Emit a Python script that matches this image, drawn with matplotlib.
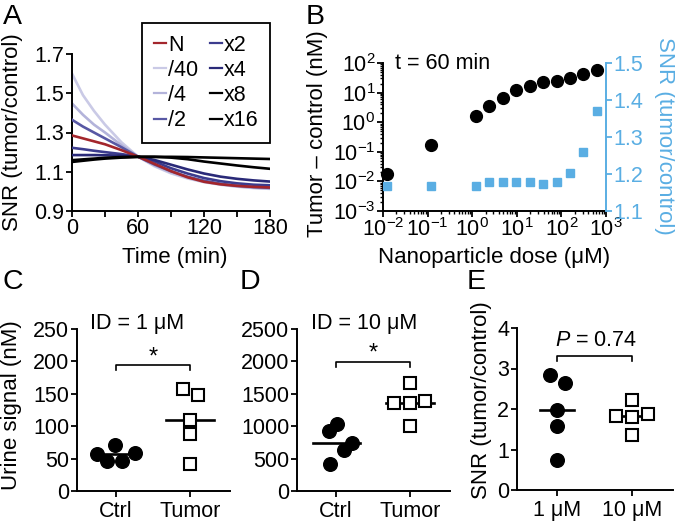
import matplotlib
matplotlib.use('Agg')
import matplotlib.pyplot as plt
from matplotlib.lines import Line2D
from matplotlib.ticker import LogLocator, NullFormatter, MultipleLocator
import numpy as np

plt.rcParams['font.family'] = ['Liberation Sans', 'DejaVu Sans']
plt.rcParams['mathtext.fontset'] = 'custom'
plt.rcParams['mathtext.rm'] = 'Liberation Sans'
plt.rcParams['mathtext.it'] = 'Liberation Sans:italic'
plt.rcParams['mathtext.bf'] = 'Liberation Sans:bold'

W, H = 675, 524

# ---------------- Panel A data ----------------
time_min = [0, 10, 20, 30, 45, 60, 75, 90, 105, 120, 135, 150, 165, 180]
snr_div40 = [1.600, 1.49, 1.41, 1.34, 1.25, 1.177, 1.128, 1.092, 1.066, 1.047, 1.034, 1.024, 1.017, 1.013]
snr_div4 = [1.448, 1.39, 1.34, 1.30, 1.235, 1.177, 1.133, 1.098, 1.070, 1.050, 1.036, 1.026, 1.019, 1.015]
snr_div2 = [1.365, 1.33, 1.30, 1.27, 1.225, 1.177, 1.137, 1.103, 1.075, 1.054, 1.039, 1.029, 1.022, 1.018]
snr_N = [1.285, 1.27, 1.255, 1.24, 1.21, 1.177, 1.14, 1.103, 1.072, 1.049, 1.036, 1.028, 1.023, 1.020]
snr_x2 = [1.222, 1.215, 1.207, 1.20, 1.19, 1.177, 1.152, 1.118, 1.091, 1.068, 1.052, 1.041, 1.034, 1.031]
snr_x4 = [1.185, 1.185, 1.185, 1.184, 1.182, 1.177, 1.16, 1.136, 1.112, 1.091, 1.075, 1.064, 1.056, 1.050]
snr_x8 = [1.159, 1.163, 1.167, 1.171, 1.175, 1.177, 1.176, 1.172, 1.164, 1.152, 1.142, 1.132, 1.123, 1.115]
snr_x16 = [1.150, 1.156, 1.162, 1.167, 1.172, 1.175, 1.176, 1.176, 1.175, 1.173, 1.171, 1.169, 1.167, 1.165]
curve_labels = ['N', '/40', '/4', '/2', 'x2', 'x4', 'x8', 'x16']

# ---------------- Panel B data ----------------
dose_uM = [0.0122, 0.122, 1.22, 2.44, 4.88, 9.77, 19.5, 39.1, 78.1, 156, 312, 625]
tumor_minus_control = [0.018, 0.17, 1.65, 3.4, 6.5, 11.8, 17, 22, 25, 30, 44, 60]
snr_60min = [1.168, 1.168, 1.168, 1.178, 1.178, 1.178, 1.178, 1.173, 1.179, 1.202, 1.259, 1.371]

# ---------------- Panel C data ----------------
c_ctrl = [57.7, 70.6, 58.8, 45.9, 45.9]
c_tumor = [158, 148, 110, 88.7, 41]
# ---------------- Panel D data ----------------
d_ctrl = [928, 1031, 742, 639, 412]
d_tumor = [1660, 1361, 1351, 1392, 1005]
# ---------------- Panel E data ----------------
e_1uM = [2.845, 2.64, 1.98, 1.57, 0.74]
e_10uM = [2.23, 1.83, 1.81, 1.88, 1.36]

# horizontal scatter offsets (layout only)
c_ctrl_dx = [-0.26, -0.01, 0.26, -0.13, 0.08]
c_tumor_dx = [-0.09, 0.11, 0, 0, 0]
d_ctrl_dx = [-0.10, 0.01, 0.21, 0.11, -0.09]
d_tumor_dx = [0, -0.22, 0, 0.20, 0]
e_1uM_dx = [-0.09, 0.11, 0, 0, 0]
e_10uM_dx = [0, -0.21, 0, 0.21, 0]

BLUE = '#5aaee3'
TICK = 15.5
LAB = 16
ANN = 15.5

fig = plt.figure(figsize=(W / 100, H / 100), dpi=100)


def add_ax(l, r, t, b):
    return fig.add_axes([l / W, 1 - b / H, (r - l) / W, (b - t) / H])


def ftext(x, y, s, **kw):
    fig.text(x / W, 1 - y / H, s, **kw)


def style(ax):
    for s in ['top', 'right']:
        ax.spines[s].set_visible(False)
    for s in ['left', 'bottom']:
        ax.spines[s].set_linewidth(1.4)
    ax.tick_params(direction='out', length=4, width=1.3, labelsize=TICK)
    ax.tick_params(which='minor', direction='out', length=4, width=1.3)


# ================= Panel A =================
axA = add_ax(72, 270, 54, 211)
style(axA)
curves = [
    ('/40', snr_div40, '#cacae6', 2),
    ('/4', snr_div4, '#b3b3da', 2),
    ('/2', snr_div2, '#5858a4', 3),
    ('x2', snr_x2, '#3c3c8e', 3),
    ('x4', snr_x4, '#2a2a78', 3),
    ('N', snr_N, '#a3262c', 4),
    ('x8', snr_x8, 'black', 5),
    ('x16', snr_x16, 'black', 5),
]
handles = {}
for lab, ys, col, z in curves:
    axA.plot(time_min, ys, color=col, lw=1.9, zorder=z)
    handles[lab] = Line2D([], [], color=col, lw=1.6)
axA.set_xlim(0, 180)
axA.set_ylim(0.9, 1.7)
axA.set_xticks([0, 60, 120, 180])
axA.xaxis.set_minor_locator(MultipleLocator(30))
axA.set_yticks([0.9, 1.1, 1.3, 1.5, 1.7])
axA.tick_params(axis='x', which='both', pad=1)
axA.tick_params(axis='y', pad=1.5)
leg = axA.legend([handles[k] for k in curve_labels], curve_labels, ncol=2,
                 loc='upper left', bbox_to_anchor=((142 - 72) / 198, (211 - 23) / 157),
                 frameon=True, fancybox=False, edgecolor='black', framealpha=1,
                 fontsize=15.5, handlelength=0.55, handletextpad=0.1,
                 columnspacing=0.55, labelspacing=0.19, borderpad=0.55, borderaxespad=0)
leg.get_frame().set_linewidth(1.3)
ftext(13, 132, 'SNR (tumor/control)', rotation=90, ha='center', va='center', fontsize=LAB)
ftext(175, 263, 'Time (min)', ha='center', va='baseline', fontsize=LAB)

# ================= Panel B =================
axB = add_ax(383, 606, 63, 211)
axB.spines['top'].set_visible(False)
axB.spines['right'].set_visible(False)
for s in ['left', 'bottom']:
    axB.spines[s].set_linewidth(1.4)
axB.set_xscale('log')
axB.set_yscale('log')
axB.set_xlim(1e-2, 1e3)
axB.set_ylim(1e-3, 1e2)
axB.xaxis.set_major_locator(LogLocator(base=10, numticks=20))
axB.yaxis.set_major_locator(LogLocator(base=10, numticks=20))
axB.xaxis.set_minor_locator(LogLocator(base=10, subs=np.arange(2, 10), numticks=20))
axB.yaxis.set_minor_locator(LogLocator(base=10, subs=np.arange(2, 10), numticks=20))
axB.xaxis.set_minor_formatter(NullFormatter())
axB.yaxis.set_minor_formatter(NullFormatter())
axB.tick_params(direction='out', length=4, width=1.3, labelsize=TICK)
axB.tick_params(which='minor', direction='out', length=2.5, width=1.0)
axB.tick_params(axis='y', pad=1.5)
axB.tick_params(axis='x', pad=1)
axB.plot(dose_uM, tumor_minus_control, 'o', color='black', ms=8.5, ls='none', zorder=4, clip_on=False)

axB2 = axB.twinx()
for s in ['top', 'left', 'bottom']:
    axB2.spines[s].set_visible(False)
axB2.spines['right'].set_color(BLUE)
axB2.spines['right'].set_linewidth(1.4)
axB2.set_ylim(1.1, 1.5)
axB2.set_yticks([1.1, 1.2, 1.3, 1.4, 1.5])
axB2.set_yticklabels(['1.1', '1.2', '1.3', '1.4', '1.5'])
axB2.tick_params(axis='y', direction='out', length=4, width=1.3, colors=BLUE, labelsize=TICK, pad=1.5)
axB2.plot(dose_uM, snr_60min, 's', color=BLUE, ms=5.8, ls='none', zorder=3)
axB2.set_xlim(1e-2, 1e3)

ftext(395, 69, 't = 60 min', ha='left', va='baseline', fontsize=ANN)
ftext(318, 134, 'Tumor \u2013 control (nM)', rotation=90, ha='center', va='center', fontsize=LAB)
ftext(664, 136, 'SNR (tumor/control)', rotation=270, ha='center', va='center', fontsize=LAB, color=BLUE)
ftext(494, 263, 'Nanoparticle dose (\u03bcM)', ha='center', va='baseline', fontsize=LAB)


# ================= Panels C, D, E =================
def dotplot(ax, groups, offsets, ylim, yticks, half, group_labels):
    style(ax)
    for i, (vals, dx) in enumerate(zip(groups, offsets)):
        xc = i + 1
        xs = xc + np.asarray(dx)
        if i == 0:
            ax.plot(xs, vals, 'o', color='black', ms=9.8, ls='none', zorder=3, clip_on=False)
        else:
            ax.plot(xs, vals, 's', mfc='white', mec='black', mew=1.5, ms=8.2, ls='none', zorder=3, clip_on=False)
        med = np.median(vals)
        ax.plot([xc - half, xc + half], [med, med], color='black', lw=1.9, zorder=2)
    ax.set_xlim(0.47, 2.54)
    ax.set_ylim(*ylim)
    ax.set_yticks(yticks)
    ax.set_xticks([1, 2])
    ax.set_xticklabels(group_labels)
    ax.tick_params(axis='y', pad=1.5)
    ax.tick_params(axis='x', pad=3)


def bracket(ax, y0, y1):
    ax.plot([1, 1, 2, 2], [y0, y1, y1, y0], color='black', lw=1.2, clip_on=False)


axC = add_ax(77, 230, 329, 491)
dotplot(axC, [c_ctrl, c_tumor], [c_ctrl_dx, c_tumor_dx], (0, 250),
        [0, 50, 100, 150, 200, 250], 0.32, ['Ctrl', 'Tumor'])
bracket(axC, 186, 194)
axC.text(1.5, 197, '*', ha='center', va='baseline', fontsize=17)
ftext(90, 329, 'ID = 1 \u03bcM', ha='left', va='baseline', fontsize=ANN)
ftext(12, 405, 'Urine signal (nM)', rotation=90, ha='center', va='center', fontsize=LAB)

axD = add_ax(297, 450, 329, 491)
dotplot(axD, [d_ctrl, d_tumor], [d_ctrl_dx, d_tumor_dx], (0, 2500),
        [0, 500, 1000, 1500, 2000, 2500], 0.32, ['Ctrl', 'Tumor'])
bracket(axD, 1918, 1995)
axD.text(1.5, 2030, '*', ha='center', va='baseline', fontsize=17)
ftext(311, 329, 'ID = 10 \u03bcM', ha='left', va='baseline', fontsize=ANN)

axE = add_ax(517, 673, 328, 490)
dotplot(axE, [e_1uM, e_10uM], [e_1uM_dx, e_10uM_dx], (0, 4),
        [0, 1, 2, 3, 4], 0.23, ['1 \u03bcM', '10 \u03bcM'])
bracket(axE, 3.175, 3.30)
ftext(596, 346, r'$P$ = 0.74', ha='center', va='baseline', fontsize=ANN)
ftext(482, 400, 'SNR (tumor/control)', rotation=90, ha='center', va='center', fontsize=LAB)

# panel letters
for lx, ly, L in [(3, 24, 'A'), (306, 24, 'B'), (3, 289, 'C'), (240, 289, 'D'), (467, 289, 'E')]:
    ftext(lx, ly, L, ha='left', va='baseline', fontsize=20.5)

fig.savefig('out.png', dpi=100)
